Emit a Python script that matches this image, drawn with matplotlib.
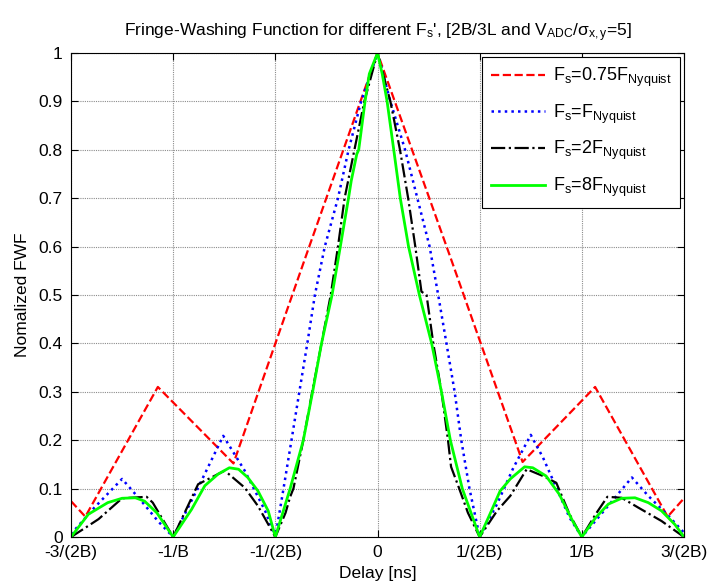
import matplotlib
matplotlib.use("Agg")
import matplotlib.pyplot as plt

plt.rcParams["font.family"] = ["Liberation Sans", "DejaVu Sans"]
plt.rcParams["mathtext.fontset"] = "custom"
plt.rcParams["mathtext.rm"] = "Liberation Sans"
plt.rcParams["mathtext.it"] = "Liberation Sans"
plt.rcParams["mathtext.bf"] = "Liberation Sans:bold"

# delay in units of 1/(2B)
x_tick_pos = [-3, -2, -1, 0, 1, 2, 3]
x_tick_labels = ["-3/(2B)", "-1/B", "-1/(2B)", "0", "1/(2B)", "1/B", "3/(2B)"]
y_tick_pos = [0, 0.1, 0.2, 0.3, 0.4, 0.5, 0.6, 0.7, 0.8, 0.9, 1.0]
y_tick_labels = ["0", "0.1", "0.2", "0.3", "0.4", "0.5", "0.6", "0.7", "0.8", "0.9", "1"]

# Fs = 0.75 F_Nyquist
x_075 = [-3.0, -2.86, -2.15, -1.41, -0.71, 0.0, 0.71, 1.42, 2.13, 2.84, 3.0]
y_075 = [0.074, 0.042, 0.31, 0.152, 0.575, 1.0, 0.58, 0.155, 0.31, 0.042, 0.08]

# Fs = F_Nyquist
x_1 = [-3.0, -2.77, -2.5, -2.31, -2.15, -2.0, -1.756, -1.51, -1.3, -1.1, -1.0,
       -0.92, -0.842, -0.765, -0.687, -0.613, -0.516, -0.387, -0.283, -0.16, 0.0,
       0.126, 0.27, 0.39, 0.51, 0.594, 0.675, 0.755, 0.82, 0.9, 1.0,
       1.17, 1.33, 1.5, 1.62, 1.75, 1.88, 2.0, 2.2, 2.49, 2.65, 2.85, 3.0]
y_1 = [0.006, 0.061, 0.12, 0.074, 0.033, 0.0, 0.102, 0.209, 0.137, 0.054, 0.0,
       0.1, 0.2, 0.3, 0.4, 0.5, 0.6, 0.7, 0.8, 0.9, 1.0,
       0.9, 0.8, 0.7, 0.6, 0.5, 0.4, 0.3, 0.2, 0.1, 0.0,
       0.068, 0.143, 0.211, 0.164, 0.102, 0.04, 0.0, 0.05, 0.123, 0.085, 0.043, 0.009]

# Fs = 2 F_Nyquist
x_2 = [-3.0, -2.86, -2.73, -2.5, -2.26, -2.2, -2.0, -1.756, -1.495, -1.3, -1.17, -1.0,
       -0.9, -0.855, -0.823, -0.726, -0.639, -0.548, -0.458, -0.387, -0.322, -0.226, -0.129, 0.0,
       0.126, 0.22, 0.30, 0.37, 0.43, 0.48, 0.546, 0.626, 0.69, 0.72, 0.8, 0.885, 1.0,
       1.17, 1.3, 1.46, 1.62, 1.75, 1.88, 2.0, 2.135, 2.25, 2.39, 2.55, 2.78, 3.0]
y_2 = [0.0, 0.019, 0.037, 0.08, 0.083, 0.071, 0.0, 0.109, 0.137, 0.102, 0.064, 0.0,
       0.05, 0.083, 0.1, 0.2, 0.3, 0.4, 0.5, 0.6, 0.7, 0.8, 0.9, 1.0,
       0.9, 0.8, 0.7, 0.6, 0.507, 0.5, 0.4, 0.3, 0.2, 0.145, 0.1, 0.05, 0.0,
       0.054, 0.085, 0.14, 0.126, 0.112, 0.047, 0.0, 0.047, 0.083, 0.081, 0.061, 0.033, 0.0]

# Fs = 8 F_Nyquist
x_8 = [-3.0, -2.83, -2.64, -2.5, -2.37, -2.28, -2.16, -2.0,
       -1.82, -1.69, -1.56, -1.45, -1.36, -1.27, -1.17, -1.07, -1.0,
       -0.855, -0.726, -0.635, -0.548, -0.445, -0.364, -0.284, -0.257, -0.203, -0.184, -0.122, -0.08, 0.0,
       0.046, 0.094, 0.159, 0.223, 0.304, 0.41, 0.53, 0.626, 0.713, 0.83, 1.0,
       1.1, 1.2, 1.3, 1.44, 1.52, 1.65, 1.78, 1.91, 2.0,
       2.135, 2.26, 2.39, 2.52, 2.65, 2.78, 2.91, 3.0]
y_8 = [0.0, 0.047, 0.071, 0.08, 0.081, 0.074, 0.05, 0.0,
       0.057, 0.106, 0.13, 0.143, 0.14, 0.123, 0.095, 0.054, 0.0,
       0.1, 0.2, 0.3, 0.4, 0.5, 0.6, 0.7, 0.736, 0.791, 0.8, 0.9, 0.957, 1.0,
       0.957, 0.9, 0.8, 0.7, 0.6, 0.5, 0.4, 0.3, 0.2, 0.1, 0.0,
       0.047, 0.095, 0.12, 0.145, 0.143, 0.126, 0.088, 0.033, 0.0,
       0.04, 0.068, 0.08, 0.081, 0.071, 0.054, 0.026, 0.0]

labels = [r"$\mathrm{F_s}$=0.75$\mathrm{F_{Nyquist}}$",
          r"$\mathrm{F_s}$=$\mathrm{F_{Nyquist}}$",
          r"$\mathrm{F_s}$=2$\mathrm{F_{Nyquist}}$",
          r"$\mathrm{F_s}$=8$\mathrm{F_{Nyquist}}$"]

fig = plt.figure(figsize=(7.08, 5.87), dpi=100)
ax = fig.add_axes([0.1003, 0.0852, 0.8658, 0.8245])

ax.plot(x_075, y_075, color="red", linestyle="--", linewidth=1.6, label=labels[0])
ax.plot(x_1, y_1, color="blue", linestyle=":", linewidth=1.8, label=labels[1])
ax.plot(x_2, y_2, color="black", linestyle="-.", linewidth=1.6, label=labels[2])
ax.plot(x_8, y_8, color="#00ff00", linestyle="-", linewidth=2.0, label=labels[3])

ax.set_xlim(-3, 3)
ax.set_ylim(0, 1)
ax.set_xticks(x_tick_pos)
ax.set_xticklabels(x_tick_labels)
ax.set_yticks(y_tick_pos)
ax.set_yticklabels(y_tick_labels)
ax.tick_params(direction="in", top=True, right=True, length=5, labelsize=12.5, pad=6)
ax.grid(True, color="0.55", linestyle=(0, (1, 1)), linewidth=0.8)
for s in ax.spines.values():
    s.set_linewidth(0.8)

ax.set_title(r"Fringe-Washing Function for different F$_\mathrm{s}$', [2B/3L and V$_\mathrm{ADC}$/$\sigma_\mathrm{x,y}$=5]",
             fontsize=12.5, pad=12)
ax.set_xlabel("Delay [ns]", fontsize=12.5, labelpad=4)
ax.set_ylabel("Nomalized FWF", fontsize=12.5, labelpad=6)

leg = ax.legend(loc="upper right", fontsize=13, fancybox=False, framealpha=1,
                edgecolor="black", handlelength=3.0, handletextpad=0.4,
                borderaxespad=0.2, labelspacing=0.75, borderpad=0.5)
leg.get_frame().set_linewidth(0.8)

fig.savefig("out.png", dpi=100)
